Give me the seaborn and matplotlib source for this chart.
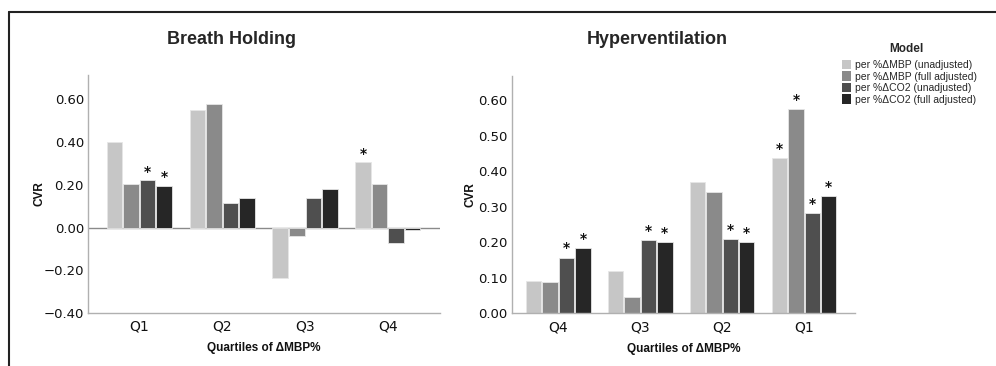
import numpy as np
import pandas as pd
import seaborn as sns
import matplotlib.pyplot as plt
from matplotlib.lines import Line2D

models = ['per %ΔMBP (unadjusted)', 'per %ΔMBP (full adjusted)',
          'per %ΔCO2 (unadjusted)', 'per %ΔCO2 (full adjusted)']
colors = ['#c6c6c6', '#8a8a8a', '#4f4f4f', '#262626']

bh_quartiles = ['Q1', 'Q2', 'Q3', 'Q4']
bh_values = [
    [0.40, 0.203, 0.222, 0.196],
    [0.551, 0.577, 0.116, 0.139],
    [-0.238, -0.039, 0.139, 0.181],
    [0.305, 0.203, -0.072, -0.011],
]
bh_sig = [
    [0, 0, 1, 1],
    [0, 0, 0, 0],
    [0, 0, 0, 0],
    [1, 0, 0, 0],
]

hv_quartiles = ['Q4', 'Q3', 'Q2', 'Q1']
hv_values = [
    [0.091, 0.088, 0.157, 0.184],
    [0.119, 0.047, 0.206, 0.201],
    [0.371, 0.342, 0.210, 0.200],
    [0.438, 0.575, 0.283, 0.329],
]
hv_sig = [
    [0, 0, 1, 1],
    [0, 0, 1, 1],
    [0, 0, 1, 1],
    [1, 1, 1, 1],
]


def to_long(quartiles, values):
    rows = []
    for q, vals in zip(quartiles, values):
        for m, v in zip(models, vals):
            rows.append({'quartile': q, 'model': m, 'CVR': v})
    return pd.DataFrame(rows)


sns.set_style('white')
plt.rcParams['font.family'] = ['DejaVu Sans']

fig = plt.figure(figsize=(9.96, 3.66), dpi=100)
ax1 = fig.add_axes([0.0884, 0.1448, 0.3534, 0.650])
ax2 = fig.add_axes([0.5137, 0.144, 0.3446, 0.648])

palette = dict(zip(models, colors))


def draw(ax, quartiles, values, sig, ylim, yticks, xlim, ylabel_x):
    df = to_long(quartiles, values)
    sns.barplot(data=df, x='quartile', y='CVR', hue='model', order=quartiles,
                hue_order=models, palette=palette, width=0.8, gap=0.06,
                edgecolor='#e6e6e6', linewidth=0.6, saturation=1,
                legend=False, ax=ax)
    for j, cont in enumerate(ax.containers):
        for i, bar in enumerate(cont):
            if sig[i][j]:
                top = bar.get_y() + bar.get_height()
                ax.text(bar.get_x() + bar.get_width() / 2, top + 0.006, '*',
                        ha='center', va='bottom', fontsize=10,
                        fontweight='bold', color='#111111')
    ax.set_ylim(*ylim)
    ax.set_xlim(*xlim)
    ax.set_yticks(yticks)
    ax.set_yticklabels([('%.2f' % t).replace('-', '\u2212') for t in yticks],
                       fontsize=9.5, color='#111111')
    ax.tick_params(axis='x', labelsize=10, length=0, pad=5, labelcolor='#111111')
    ax.tick_params(axis='y', length=0, pad=3)
    ax.set_xlabel('Quartiles of ΔMBP%', fontsize=8.5, fontweight='bold',
                  family='Liberation Sans', labelpad=6, color='#111111')
    ax.set_ylabel('CVR', fontsize=8.5, fontweight='bold',
                  family='Liberation Sans', color='#111111')
    ax.yaxis.set_label_coords(ylabel_x, 0.5)
    for s in ['top', 'right']:
        ax.spines[s].set_visible(False)
    for s in ['left', 'bottom']:
        ax.spines[s].set_color('#b0b0b0')
        ax.spines[s].set_linewidth(1.0)


draw(ax1, bh_quartiles, bh_values, bh_sig,
     (-0.40, 0.713), [-0.40, -0.20, 0.00, 0.20, 0.40, 0.60], (-0.62, 3.63), -0.122)
ax1.axhline(0, color='#8a8a8a', linewidth=1.0, zorder=0.5)

draw(ax2, hv_quartiles, hv_values, hv_sig,
     (0.0, 0.668), [0.0, 0.1, 0.2, 0.3, 0.4, 0.5, 0.6], (-0.57, 3.62), -0.103)

fig.text(231 / 996, 1 - 40 / 366, 'Breath Holding', ha='center', va='center',
         fontsize=13, fontweight='bold', family='Liberation Sans')
fig.text(657 / 996, 1 - 40 / 366, 'Hyperventilation', ha='center', va='center',
         fontsize=13, fontweight='bold', family='Liberation Sans')

fig.text(906 / 996, 1 - 49 / 366, 'Model', ha='center', va='center',
         fontsize=8.5, fontweight='bold', family='Liberation Sans')
handles = [plt.Rectangle((0, 0), 1, 1, facecolor=c, edgecolor='none') for c in colors]
leg = fig.legend(handles, models, loc='upper left',
                 bbox_to_anchor=(842 / 996, 1 - 60 / 366), frameon=False,
                 fontsize=7.5, handlelength=0.9,
                 handleheight=1.0, handletextpad=0.3, labelspacing=0.12,
                 borderpad=0, borderaxespad=0)
for t in leg.get_texts():
    t.set_family('Liberation Sans')

# frame around the figure (top and left edges visible)
fig.add_artist(Line2D([9 / 996, 1.0], [1 - 12 / 366, 1 - 12 / 366],
                      color='#222222', linewidth=1.5))
fig.add_artist(Line2D([9 / 996, 9 / 996], [0, 1 - 12 / 366],
                      color='#222222', linewidth=1.5))

fig.savefig('out.png', dpi=100)
